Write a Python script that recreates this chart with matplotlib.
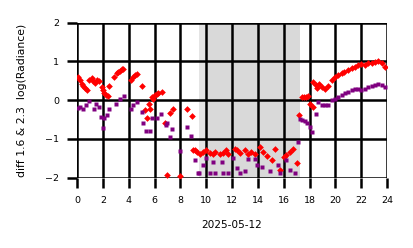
import matplotlib
matplotlib.use("Agg")
from matplotlib import pyplot as plt

# hours of day, log-radiance differences
red_hours = [0.1, 0.23, 0.36, 0.5, 0.62, 0.75, 0.95, 1.13, 1.26, 1.39, 1.57, 1.73, 1.91, 2.0,
             2.12, 2.24, 2.4, 2.5, 2.89, 3.07, 3.2, 3.33, 3.46, 3.58, 4.18, 4.36, 4.5, 4.62,
             5.0, 5.26, 5.39, 5.6, 5.65, 5.78, 5.9, 6.04, 6.17, 6.29, 6.55, 6.81, 6.94, 7.2,
             7.4, 8.0, 8.49, 8.88, 9.0, 9.13, 9.26, 9.52, 9.78, 10.0, 10.3, 10.5, 10.7,
             11.07, 11.3, 11.5, 11.7, 12.2, 12.4, 12.6, 13.0, 13.26, 13.5, 13.8, 14.16,
             14.4, 14.7, 15.07, 15.33, 15.7, 16.0, 16.2, 16.5, 16.74, 17.0, 17.2, 17.4,
             17.55, 17.7, 17.9, 18.03, 18.29, 18.29, 18.5, 18.55, 18.7, 18.94, 19.2, 19.46,
             19.7, 19.97, 20.2, 20.5, 20.7, 21.0, 21.25, 21.5, 21.77, 22.0, 22.3, 22.55,
             22.8, 23.06, 23.3, 23.57, 23.85]
red_vals = [0.6, 0.52, 0.41, 0.36, 0.31, 0.26, 0.53, 0.56, 0.5, 0.43, 0.52, 0.49, 0.33, 0.25,
            0.17, 0.13, 0.1, 0.36, 0.6, 0.69, 0.72, 0.76, 0.79, 0.81, 0.52, 0.6, 0.64, 0.67,
            0.36, -0.26, -0.47, -0.09, -0.22, 0.07, 0.04, 0.13, 0.15, 0.17, 0.22, -0.58, -1.94,
            -0.34, -0.22, -1.95, -0.24, -0.41, -1.29, -1.29, -1.33, -1.38, -1.33, -1.29,
            -1.36, -1.4, -1.33, -1.38, -1.36, -1.3, -1.39, -1.25, -1.3, -1.36, -1.29, -1.39,
            -1.33, -1.4, -1.2, -1.33, -1.45, -1.55, -1.27, -1.81, -1.48, -1.42, -1.33, -1.25,
            -1.62, -0.39, 0.09, 0.07, 0.07, 0.1, -0.09, -0.17, 0.47, 0.4, 0.3, 0.42, 0.34,
            0.28, 0.37, 0.52, 0.6, 0.65, 0.69, 0.73, 0.77, 0.82, 0.86, 0.9, 0.92, 0.9, 0.95,
            0.96, 0.99, 1.0, 0.96, 0.86]

purple_hours = [0.1, 0.23, 0.49, 0.7, 0.95, 1.34, 1.47, 1.73, 1.86, 2.04, 2.12, 2.3, 2.5,
                3.02, 3.33, 3.64, 4.18, 4.36, 4.62, 5.0, 5.13, 5.34, 5.65, 5.78, 6.17, 6.5,
                6.89, 7.0, 7.2, 7.33, 7.97, 8.49, 8.8, 9.13, 9.39, 9.47, 9.78, 10.0, 10.3,
                10.56, 10.7, 11.2, 11.3, 11.7, 12.1, 12.36, 12.6, 13.0, 13.26, 13.75, 13.9,
                14.3, 14.94, 15.58, 15.7, 16.2, 16.5, 16.9, 17.13, 17.26, 17.4, 17.66, 17.8,
                18.0, 18.17, 18.5, 18.68, 18.94, 19.2, 19.46, 19.7, 19.97, 20.2, 20.5, 20.74,
                21.0, 21.25, 21.5, 21.77, 22.0, 22.3, 22.55, 22.8, 23.06, 23.3, 23.57, 23.85]
purple_vals = [-0.2, -0.17, -0.22, -0.13, -0.02, -0.22, -0.09, -0.17, -0.43, -0.73, -0.47,
               -0.39, -0.24, -0.1, 0.04, 0.1, -0.23, -0.13, -0.04, -0.3, -0.58, -0.79, -0.79,
               -0.47, -0.45, -0.36, -0.65, -0.6, -0.95, -0.75, -1.31, -0.69, -0.93, -1.55,
               -1.89, -1.87, -1.67, -1.5, -1.87, -1.59, -1.87, -1.59, -1.89, -1.87, -1.5,
               -1.76, -1.89, -1.84, -1.53, -1.53, -1.68, -1.72, -1.82, -1.68, -1.87, -1.55,
               -1.81, -1.89, -1.07, -0.5, -0.52, -0.55, -0.6, -0.69, -0.82, -0.36, -0.04,
               -0.13, -0.13, -0.13, 0.0, 0.04, 0.09, 0.13, 0.17, 0.22, 0.26, 0.28, 0.29, 0.26,
               0.28, 0.33, 0.36, 0.4, 0.41, 0.39, 0.34]

night_start, night_end = 9.45, 17.25

fig = plt.figure(figsize=(4.14, 2.48), dpi=100)
ax = fig.add_axes([0.186, 0.284, 0.749, 0.625])

ax.axvspan(night_start, night_end, color="#d9d9d9", lw=0, zorder=0)
ax.axvspan(night_start, night_start + 0.6, color="#e4e4e4", lw=0, zorder=0)

ax.plot(red_hours, red_vals, ls="none", marker="D", ms=3.4, color="red", mec="none", zorder=3)
ax.plot(purple_hours, purple_vals, ls="none", marker="s", ms=2.3, color="purple", mec="none", zorder=4)

ax.set_xlim(0, 24)
ax.set_ylim(-2, 2)
ax.set_xticks(range(0, 25, 2))
ax.set_yticks([-2, -1, 0, 1, 2])
ax.grid(True, color="black", lw=1.8, zorder=1)
ax.set_axisbelow(True)
for s in ax.spines.values():
    s.set_visible(False)
ax.tick_params(length=7, width=1.8, labelsize=6.8, pad=6)

ax.set_xlabel("2025-05-12", fontsize=7.6, labelpad=11)
ax.set_ylabel("diff 1.6 & 2.3  log(Radiance)", fontsize=7.8, labelpad=13)

fig.savefig("out.png", dpi=100)
